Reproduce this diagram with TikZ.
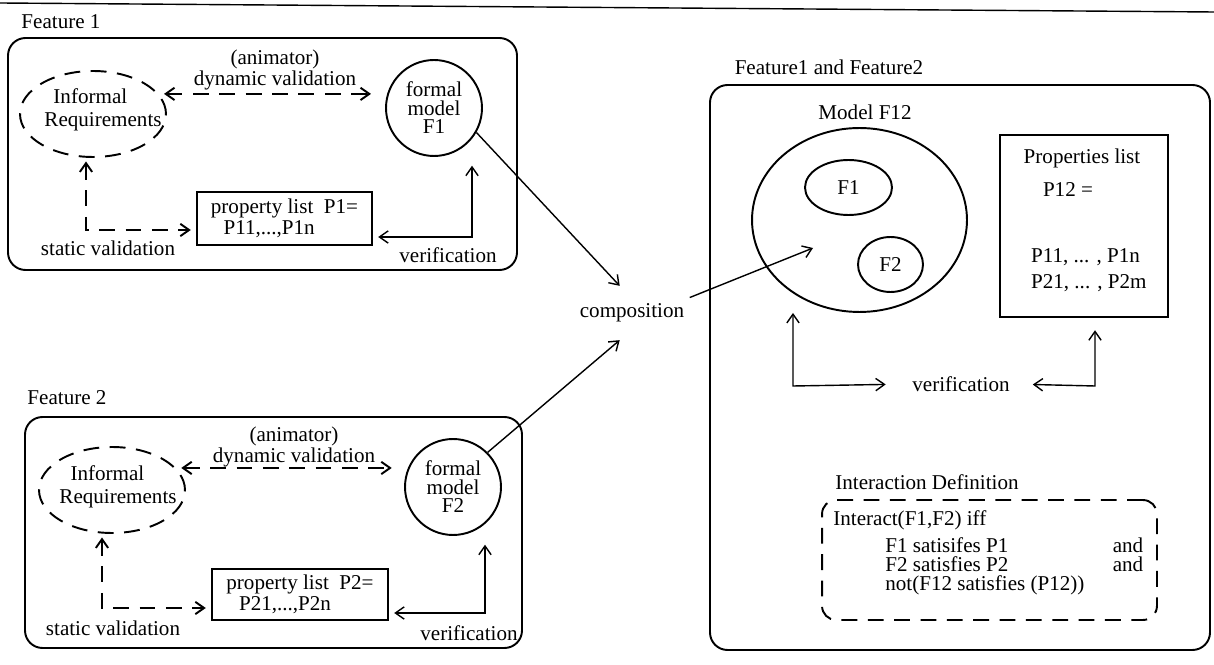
\documentclass[tikz,border=0pt]{standalone}
\usepackage{fontspec}
\setmainfont{Liberation Serif}
\usetikzlibrary{arrows.meta,shapes.geometric}

\begin{document}
\begin{tikzpicture}[x=0.02cm, y=-0.02cm,
    every node/.style={font=\fontsize{12}{12}\selectfont, inner sep=1pt},
    panel/.style={draw, line width=1.1pt, rounded corners=10pt},
    dashedge/.style={dashed, dash pattern=on 9pt off 6pt, line width=1.1pt},
    link/.style={line width=0.8pt},
    tip/.style={-{Straight Barb[length=5pt,width=7pt]}},
    tips/.style={{Straight Barb[length=5pt,width=7pt]}-{Straight Barb[length=5pt,width=7pt]}},
    reqs/.style={draw, ellipse, dashedge, minimum width=2.92cm, minimum height=1.72cm, inner sep=0pt},
    reqtext/.style={align=center, font=\fontsize{12}{13}\selectfont},
    model/.style={draw, circle, line width=1.1pt, minimum size=1.92cm, align=center,
        font=\fontsize{12}{10.5}\selectfont, inner sep=0pt},
    plist/.style={draw, line width=1.1pt, align=left},
    part/.style={draw, ellipse, line width=1.1pt, inner sep=0pt},
    defline/.style={anchor=base west, inner sep=0pt, text height=8.3pt, text depth=1.8pt}
]
    \useasboundingbox (0,0) rectangle (1214,665);
    \draw[line width=0.8pt] (0,3) -- (1214,12);

    % Feature 1
    \node (feat1) at (61,22) {Feature 1};
    \draw[panel] (8,38) rectangle (517,270);
    \node[reqs] (req1) at (93,114) {};
    \node[reqtext] (req1t) at (103,110) {Informal\hspace*{1.2em}\\Requirements};
    \node[model] (fm1) at (434,108) {formal\\model\\F1};
    \node[plist, minimum width=3.5cm, minimum height=1.06cm] (pl1) at (284.5,218.5)
        {property list\enspace P1=\\\hspace*{0.6em}P11,...,P1n};
    \node[align=center] (dv1) at (275,70) {(animator)\\dynamic validation};
    \node (sv1) at (108,248) {static validation};
    \node (vf1) at (448,255) {verification};

    \draw[dashedge, tips, shorten <=3pt, shorten >=8pt] (req1.17) -- (req1.17 -| fm1.west);
    \coordinate (sc1) at (86,230);
    \draw[dashedge, tips, shorten <=2pt, shorten >=3pt] (sc1 |- req1.south) -- (sc1) -- (sc1 -| pl1.west);
    \coordinate (vc1) at (472,237);
    \draw[link, tips, shorten <=5pt, shorten >=3pt] (vc1 |- fm1.south) -- (vc1) -- (vc1 -| pl1.east);

    % Feature 2
    \node (feat2) at (67,398) {Feature 2};
    \draw[panel] (25,417) rectangle (522,648);
    \node[reqs] (req2) at (112,490) {};
    \node[reqtext] (req2t) at (118,487) {Informal\hspace*{1em}\\Requirements};
    \node[model] (fm2) at (453,487) {formal\\model\\F2};
    \node[plist, minimum width=3.52cm, minimum height=1.02cm] (pl2) at (300,594.5)
        {property list\enspace P2=\\\hspace*{0.6em}P21,...,P2n};
    \node[align=center] (dv2) at (294,447) {(animator)\\dynamic validation};
    \node (sv2) at (113,628) {static validation};
    \node (vf2) at (469,633) {verification};

    \draw[dashedge, tips, shorten <=3pt, shorten >=7pt] (req2.19) -- (req2.19 -| fm2.west);
    \coordinate (sc2) at (102,608);
    \draw[dashedge, tips, shorten <=2pt, shorten >=3pt] (sc2 |- req2.south) -- (sc2) -- (sc2 -| pl2.west);
    \coordinate (vc2) at (485,613);
    \draw[link, tips, shorten <=5pt, shorten >=3pt] (vc2 |- fm2.south) -- (vc2) -- (vc2 -| pl2.east);

    % composition
    \node[inner xsep=3pt, inner ysep=10pt] (comp) at (632,313) {composition};
    \coordinate (f12in) at (813,248);
    \draw[link, tip] (fm1.-30) -- ([xshift=-7pt]comp.north);
    \draw[link, tip] (fm2.45) -- ([xshift=-7pt]comp.south);
    \draw[link, tip] (comp.15) -- (f12in);

    % Feature1 and Feature2
    \node (feat12) at (829,67) {Feature1 and Feature2};
    \draw[panel] (710,85) rectangle (1210,650);
    \node (mlab) at (865,112) {Model F12};
    \node[part, minimum width=4.3cm, minimum height=3.68cm] (mf12) at (859.5,220) {};
    \node[part, minimum width=1.74cm, minimum height=1.1cm] (f1in) at (848.5,187.5) {F1};
    \node[part, minimum width=1.3cm, minimum height=1.1cm] (f2in) at (890.5,264.5) {F2};
    \node[draw, line width=1.1pt, minimum width=3.36cm, minimum height=3.64cm] (props) at (1084,226) {};
    \node (plab) at (1082,158) {Properties list};
    \node (p12) at (1068,190) {P12 =};
    \node[anchor=west, align=left, font=\fontsize{12}{15}\selectfont] (plst) at (1029,270) {P11, ... , P1n\\P21, ... , P2m};
    \node (vf12) at (961,384) {verification};

    \coordinate (vl) at (793,386);
    \draw[link, tips, shorten >=14pt] (vl |- mf12.south) -- (vl) -- (vf12.west);
    \coordinate (vr) at (1095,386);
    \draw[link, tips, shorten <=7pt, shorten >=12pt] (vr |- props.south) -- (vr) -- (vf12.east);

    % interaction definition
    \node (idlab) at (927,482) {Interaction Definition};
    \node[draw, dashedge, rounded corners=8pt, minimum width=6.7cm, minimum height=2.4cm] (intdef) at (989.5,560) {};
    \node[defline] (ia) at (833,525) {Interact(F1,F2) iff};
    \node[defline] (ib) at (885,552) {F1 satisifes P1};
    \node[defline] (ic) at (885,571) {F2 satisfies P2};
    \node[defline] (id) at (885,590) {not(F12 satisfies (P12))};
    \node[defline, anchor=base] (and1) at (1128,552) {and};
    \node[defline, anchor=base] (and2) at (1128,571) {and};
\end{tikzpicture}
\end{document}
